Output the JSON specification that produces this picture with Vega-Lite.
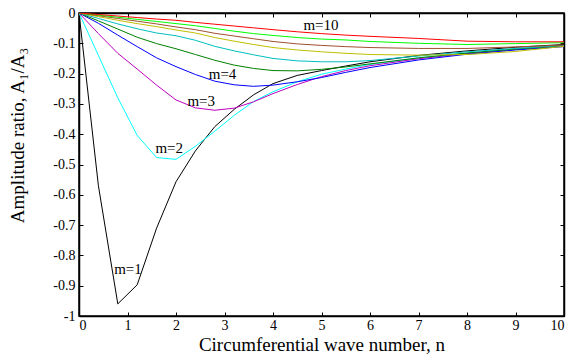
{
  "$schema": "https://vega.github.io/schema/vega-lite/v6.json",
  "width": 485,
  "height": 303,
  "autosize": "none",
  "padding": {"left": 79, "top": 13, "right": 7, "bottom": 40},
  "background": "white",
  "config": {
    "view": {"stroke": "black", "strokeWidth": 1.5},
    "font": "Liberation Serif",
    "axis": {"grid": false, "domainColor": "black", "domainWidth": 1.5, "tickColor": "black", "tickWidth": 1, "tickSize": -4, "labelColor": "black", "labelFont": "Liberation Serif", "labelFontSize": 14, "titleFont": "Liberation Serif", "titleFontWeight": "normal", "titleColor": "black", "titleFontSize": 19}
  },
  "datasets": {
    "curves": [
      {"m":1,"n":0,"v":0},{"m":1,"n":0.4,"v":-0.57},{"m":1,"n":0.8,"v":-0.96},{"m":1,"n":1.2,"v":-0.897},{"m":1,"n":1.6,"v":-0.71},{"m":1,"n":2.0,"v":-0.557},{"m":1,"n":2.4,"v":-0.455},{"m":1,"n":2.8,"v":-0.375},{"m":1,"n":3.2,"v":-0.318},{"m":1,"n":3.6,"v":-0.27},{"m":1,"n":4.0,"v":-0.233},{"m":1,"n":4.5,"v":-0.206},{"m":1,"n":5,"v":-0.19},{"m":1,"n":5.5,"v":-0.175},{"m":1,"n":6,"v":-0.161},{"m":1,"n":7,"v":-0.14},{"m":1,"n":8,"v":-0.125},{"m":1,"n":9,"v":-0.113},{"m":1,"n":10,"v":-0.104},
      {"m":2,"n":0,"v":0},{"m":2,"n":0.4,"v":-0.14},{"m":2,"n":0.8,"v":-0.28},{"m":2,"n":1.2,"v":-0.404},{"m":2,"n":1.6,"v":-0.477},{"m":2,"n":2.0,"v":-0.483},{"m":2,"n":2.4,"v":-0.44},{"m":2,"n":2.8,"v":-0.39},{"m":2,"n":3.2,"v":-0.338},{"m":2,"n":3.6,"v":-0.292},{"m":2,"n":4.0,"v":-0.26},{"m":2,"n":4.5,"v":-0.227},{"m":2,"n":5,"v":-0.202},{"m":2,"n":5.5,"v":-0.185},{"m":2,"n":6,"v":-0.17},{"m":2,"n":7,"v":-0.148},{"m":2,"n":8,"v":-0.132},{"m":2,"n":9,"v":-0.119},{"m":2,"n":10,"v":-0.108},
      {"m":3,"n":0,"v":0},{"m":3,"n":0.4,"v":-0.068},{"m":3,"n":0.8,"v":-0.133},{"m":3,"n":1.2,"v":-0.185},{"m":3,"n":1.6,"v":-0.238},{"m":3,"n":2.0,"v":-0.287},{"m":3,"n":2.4,"v":-0.313},{"m":3,"n":2.8,"v":-0.321},{"m":3,"n":3.2,"v":-0.314},{"m":3,"n":3.6,"v":-0.293},{"m":3,"n":4.0,"v":-0.266},{"m":3,"n":4.5,"v":-0.236},{"m":3,"n":5,"v":-0.21},{"m":3,"n":5.5,"v":-0.19},{"m":3,"n":6,"v":-0.174},{"m":3,"n":7,"v":-0.151},{"m":3,"n":8,"v":-0.134},{"m":3,"n":9,"v":-0.12},{"m":3,"n":10,"v":-0.109},
      {"m":4,"n":0,"v":0},{"m":4,"n":0.4,"v":-0.034},{"m":4,"n":0.8,"v":-0.073},{"m":4,"n":1.2,"v":-0.111},{"m":4,"n":1.6,"v":-0.148},{"m":4,"n":2.0,"v":-0.177},{"m":4,"n":2.4,"v":-0.203},{"m":4,"n":2.8,"v":-0.225},{"m":4,"n":3.2,"v":-0.237},{"m":4,"n":3.6,"v":-0.242},{"m":4,"n":4.0,"v":-0.238},{"m":4,"n":4.5,"v":-0.227},{"m":4,"n":5,"v":-0.213},{"m":4,"n":5.5,"v":-0.196},{"m":4,"n":6,"v":-0.18},{"m":4,"n":7,"v":-0.155},{"m":4,"n":8,"v":-0.136},{"m":4,"n":9,"v":-0.122},{"m":4,"n":10,"v":-0.111},
      {"m":5,"n":0,"v":0},{"m":5,"n":0.4,"v":-0.026},{"m":5,"n":0.8,"v":-0.053},{"m":5,"n":1.2,"v":-0.08},{"m":5,"n":1.6,"v":-0.101},{"m":5,"n":2.0,"v":-0.118},{"m":5,"n":2.4,"v":-0.137},{"m":5,"n":2.8,"v":-0.156},{"m":5,"n":3.2,"v":-0.172},{"m":5,"n":3.6,"v":-0.183},{"m":5,"n":4.0,"v":-0.19},{"m":5,"n":4.5,"v":-0.191},{"m":5,"n":5,"v":-0.186},{"m":5,"n":5.5,"v":-0.178},{"m":5,"n":6,"v":-0.168},{"m":5,"n":7,"v":-0.148},{"m":5,"n":8,"v":-0.132},{"m":5,"n":9,"v":-0.119},{"m":5,"n":10,"v":-0.108},
      {"m":6,"n":0,"v":0},{"m":6,"n":0.4,"v":-0.018},{"m":6,"n":0.8,"v":-0.036},{"m":6,"n":1.2,"v":-0.052},{"m":6,"n":1.6,"v":-0.066},{"m":6,"n":2.0,"v":-0.075},{"m":6,"n":2.4,"v":-0.09},{"m":6,"n":2.8,"v":-0.11},{"m":6,"n":3.2,"v":-0.125},{"m":6,"n":3.6,"v":-0.138},{"m":6,"n":4.0,"v":-0.15},{"m":6,"n":4.5,"v":-0.158},{"m":6,"n":5,"v":-0.161},{"m":6,"n":5.5,"v":-0.161},{"m":6,"n":6,"v":-0.157},{"m":6,"n":7,"v":-0.142},{"m":6,"n":8,"v":-0.128},{"m":6,"n":9,"v":-0.117},{"m":6,"n":10,"v":-0.107},
      {"m":7,"n":0,"v":0},{"m":7,"n":0.4,"v":-0.012},{"m":7,"n":0.8,"v":-0.024},{"m":7,"n":1.2,"v":-0.035},{"m":7,"n":1.6,"v":-0.045},{"m":7,"n":2.0,"v":-0.056},{"m":7,"n":2.4,"v":-0.066},{"m":7,"n":2.8,"v":-0.081},{"m":7,"n":3.2,"v":-0.093},{"m":7,"n":3.6,"v":-0.104},{"m":7,"n":4.0,"v":-0.114},{"m":7,"n":4.5,"v":-0.122},{"m":7,"n":5,"v":-0.128},{"m":7,"n":5.5,"v":-0.133},{"m":7,"n":6,"v":-0.137},{"m":7,"n":7,"v":-0.139},{"m":7,"n":8,"v":-0.137},{"m":7,"n":9,"v":-0.127},{"m":7,"n":10,"v":-0.11},
      {"m":8,"n":0,"v":0},{"m":8,"n":0.4,"v":-0.009},{"m":8,"n":0.8,"v":-0.018},{"m":8,"n":1.2,"v":-0.027},{"m":8,"n":1.6,"v":-0.036},{"m":8,"n":2.0,"v":-0.046},{"m":8,"n":2.4,"v":-0.055},{"m":8,"n":2.8,"v":-0.067},{"m":8,"n":3.2,"v":-0.076},{"m":8,"n":3.6,"v":-0.085},{"m":8,"n":4.0,"v":-0.094},{"m":8,"n":4.5,"v":-0.102},{"m":8,"n":5,"v":-0.107},{"m":8,"n":5.5,"v":-0.111},{"m":8,"n":6,"v":-0.114},{"m":8,"n":7,"v":-0.117},{"m":8,"n":8,"v":-0.117},{"m":8,"n":9,"v":-0.112},{"m":8,"n":10,"v":-0.106},
      {"m":9,"n":0,"v":0},{"m":9,"n":0.4,"v":-0.007},{"m":9,"n":0.8,"v":-0.014},{"m":9,"n":1.2,"v":-0.021},{"m":9,"n":1.6,"v":-0.028},{"m":9,"n":2.0,"v":-0.035},{"m":9,"n":2.4,"v":-0.042},{"m":9,"n":2.8,"v":-0.051},{"m":9,"n":3.2,"v":-0.06},{"m":9,"n":3.6,"v":-0.068},{"m":9,"n":4.0,"v":-0.074},{"m":9,"n":4.5,"v":-0.081},{"m":9,"n":5,"v":-0.086},{"m":9,"n":5.5,"v":-0.089},{"m":9,"n":6,"v":-0.094},{"m":9,"n":7,"v":-0.1},{"m":9,"n":8,"v":-0.104},{"m":9,"n":9,"v":-0.101},{"m":9,"n":10,"v":-0.098},
      {"m":10,"n":0,"v":0},{"m":10,"n":0.4,"v":-0.005},{"m":10,"n":0.8,"v":-0.01},{"m":10,"n":1.2,"v":-0.015},{"m":10,"n":1.6,"v":-0.02},{"m":10,"n":2.0,"v":-0.024},{"m":10,"n":2.4,"v":-0.031},{"m":10,"n":2.8,"v":-0.037},{"m":10,"n":3.2,"v":-0.043},{"m":10,"n":3.6,"v":-0.049},{"m":10,"n":4.0,"v":-0.055},{"m":10,"n":4.5,"v":-0.062},{"m":10,"n":5,"v":-0.068},{"m":10,"n":5.5,"v":-0.073},{"m":10,"n":6,"v":-0.077},{"m":10,"n":7,"v":-0.084},{"m":10,"n":8,"v":-0.093},{"m":10,"n":9,"v":-0.095},{"m":10,"n":10,"v":-0.095}
    ],
    "labels": [
      {"n": 4.99, "v": -0.04, "label": "m=10"},
      {"n": 2.96, "v": -0.2, "label": "m=4"},
      {"n": 2.52, "v": -0.29, "label": "m=3"},
      {"n": 1.86, "v": -0.446, "label": "m=2"},
      {"n": 1.01, "v": -0.845, "label": "m=1"}
    ]
  },
  "resolve": {"axis": {"x": "independent", "y": "independent"}},
  "layer": [
    {
      "data": {"name": "curves"},
      "mark": {"type": "line", "strokeWidth": 1, "clip": true},
      "encoding": {
        "x": {"field": "n", "type": "quantitative", "scale": {"domain": [0, 10], "nice": false}, "axis": {"orient": "bottom", "values": [0,1,2,3,4,5,6,7,8,9,10], "labelPadding": 6, "title": "Circumferential wave number, n", "titlePadding": 3}},
        "y": {"field": "v", "type": "quantitative", "scale": {"domain": [-1, 0], "nice": false}, "axis": {"orient": "left", "values": [-1,-0.9,-0.8,-0.7,-0.6,-0.5,-0.4,-0.3,-0.2,-0.1,0], "labelPadding": 8, "labelExpr": "datum.value > -0.05 ? '0' : (datum.value < -0.95 ? '-1' : '-' + format(-datum.value, '.1f'))", "title": "Amplitude ratio, A₁/A₃", "titleX": -52, "titleY": 122}},
        "color": {"field": "m", "type": "nominal", "legend": null, "scale": {"domain": [1,2,3,4,5,6,7,8,9,10], "range": ["#000000", "#00FFFF", "#BF00BF", "#0000FF", "#008000", "#00BFBF", "#BFBF00", "#A05030", "#00FF00", "#FF0000"]}},
        "detail": {"field": "m"}
      }
    },
    {
      "data": {"name": "labels"},
      "mark": {"type": "text", "font": "Liberation Serif", "fontSize": 15, "color": "black"},
      "encoding": {
        "x": {"field": "n", "type": "quantitative", "axis": {"orient": "top", "values": [0,1,2,3,4,5,6,7,8,9,10], "labels": false, "title": null}},
        "y": {"field": "v", "type": "quantitative", "axis": {"orient": "right", "values": [-1,-0.9,-0.8,-0.7,-0.6,-0.5,-0.4,-0.3,-0.2,-0.1,0], "labels": false, "title": null}},
        "text": {"field": "label"}
      }
    }
  ]
}
